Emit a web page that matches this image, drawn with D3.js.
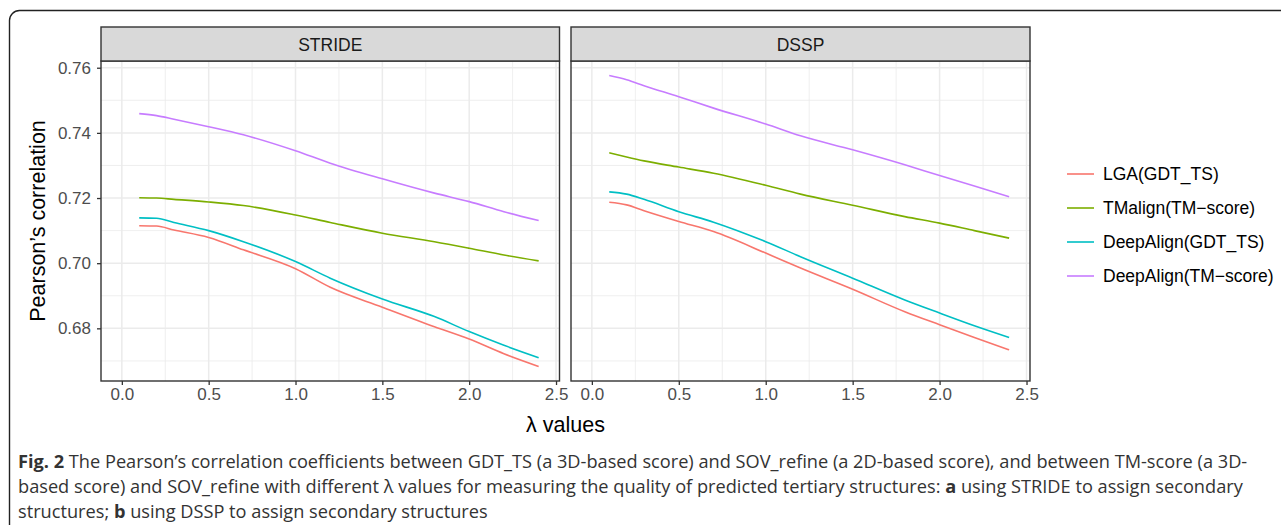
<!DOCTYPE html>
<html>
<head>
<meta charset="utf-8">
<script src="https://cdn.jsdelivr.net/npm/d3@7"></script>
<style>
  body { margin: 0; background: #fff; }
  svg { display: block; font-family: "Liberation Sans", Arial, sans-serif; }
  .caption { font-family: "Open Sans", "Noto Sans", sans-serif; fill: #333; }
</style>
</head>
<body>
<svg id="chart" width="1281" height="525"></svg>
<script>
// lambda values where the curves were read
const lambdas = [0.1, 0.2, 0.3, 0.5, 0.7, 1.0, 1.2, 1.5, 1.8, 2.0, 2.2, 2.4];
const panels = ['STRIDE', 'DSSP'];
const methods = ['LGA(GDT_TS)', 'TMalign(TM\u2212score)', 'DeepAlign(GDT_TS)', 'DeepAlign(TM\u2212score)'];
const colors = ['#F8766D', '#7CAE00', '#00BFC4', '#C77CFF'];

const strideLGA = [0.7115, 0.7114, 0.7102, 0.7079, 0.7041, 0.6983, 0.6926, 0.6865, 0.6805, 0.6767, 0.6722, 0.6683];
const strideTM = [0.7201, 0.7200, 0.7196, 0.7188, 0.7177, 0.7148, 0.7125, 0.7092, 0.7066, 0.7046, 0.7025, 0.7007];
const strideDAGdt = [0.7139, 0.7138, 0.7125, 0.7100, 0.7066, 0.7005, 0.6954, 0.6890, 0.6836, 0.6790, 0.6748, 0.6710];
const strideDATm = [0.7459, 0.7453, 0.7442, 0.7419, 0.7394, 0.7345, 0.7307, 0.7259, 0.7215, 0.7189, 0.7158, 0.7131];

const dsspLGA = [0.7187, 0.7179, 0.7161, 0.7128, 0.7097, 0.7031, 0.6985, 0.6920, 0.6851, 0.6811, 0.6772, 0.6734];
const dsspTM = [0.7339, 0.7326, 0.7314, 0.7295, 0.7276, 0.7239, 0.7212, 0.7178, 0.7143, 0.7123, 0.7100, 0.7077];
const dsspDAGdt = [0.7219, 0.7212, 0.7196, 0.7158, 0.7126, 0.7066, 0.7020, 0.6954, 0.6887, 0.6847, 0.6808, 0.6772];
const dsspDATm = [0.7576, 0.7563, 0.7545, 0.7511, 0.7476, 0.7427, 0.7391, 0.7348, 0.7302, 0.7269, 0.7237, 0.7204];

const xTicks = [0, 0.5, 1.0, 1.5, 2.0, 2.5];
const xMinor = [0.25, 0.75, 1.25, 1.75, 2.25];
const yTicks = [0.68, 0.70, 0.72, 0.74, 0.76];
const yMinor = [0.67, 0.69, 0.71, 0.73, 0.75];

const seriesByPanel = [
  [strideLGA, strideTM, strideDAGdt, strideDATm],
  [dsspLGA, dsspTM, dsspDAGdt, dsspDATm],
];

const svg = d3.select('#chart');

// outer frame of the figure box
svg.append('rect')
  .attr('x', 9.5).attr('y', 10.5)
  .attr('width', 1320).attr('height', 560)
  .attr('rx', 10)
  .attr('fill', 'none')
  .attr('stroke', '#222')
  .attr('stroke-width', 1.4);

const panelTop = 61;
const panelBottom = 381;
const stripTop = 27;
const panelX = [[101, 559.5], [571, 1030]];

// ggplot style 5% expansion
const allVals = seriesByPanel.flat(2);
const yExt = d3.extent(allVals);
const yPad = (yExt[1] - yExt[0]) * 0.05;
const y = d3.scaleLinear()
  .domain([yExt[0] - yPad, yExt[1] + yPad])
  .range([panelBottom, panelTop]);

const xExt = [0, d3.max(lambdas)];
const xPad = (xExt[1] - xExt[0]) * 0.05;

const line = (x) => d3.line()
  .x((d) => x(d[0]))
  .y((d) => y(d[1]))
  .curve(d3.curveMonotoneX);

const tickFont = 17;

panels.forEach((name, pi) => {
  const [x0, x1] = panelX[pi];
  const x = d3.scaleLinear()
    .domain([xExt[0] - xPad, xExt[1] + xPad])
    .range([x0, x1]);

  const g = svg.append('g');

  // grid
  g.selectAll('.vminor').data(xMinor).join('line')
    .attr('x1', x).attr('x2', x)
    .attr('y1', panelTop).attr('y2', panelBottom)
    .attr('stroke', '#EBEBEB').attr('stroke-width', 0.8);
  g.selectAll('.hminor').data(yMinor).join('line')
    .attr('y1', y).attr('y2', y)
    .attr('x1', x0).attr('x2', x1)
    .attr('stroke', '#EBEBEB').attr('stroke-width', 0.8);
  g.selectAll('.vmajor').data(xTicks).join('line')
    .attr('x1', x).attr('x2', x)
    .attr('y1', panelTop).attr('y2', panelBottom)
    .attr('stroke', '#EBEBEB').attr('stroke-width', 1.5);
  g.selectAll('.hmajor').data(yTicks).join('line')
    .attr('y1', y).attr('y2', y)
    .attr('x1', x0).attr('x2', x1)
    .attr('stroke', '#EBEBEB').attr('stroke-width', 1.5);

  // series
  seriesByPanel[pi].forEach((vals, si) => {
    g.append('path')
      .datum(lambdas.map((l, i) => [l, vals[i]]))
      .attr('d', line(x))
      .attr('fill', 'none')
      .attr('stroke', colors[si])
      .attr('stroke-width', 1.6);
  });

  // panel border
  g.append('rect')
    .attr('x', x0).attr('y', panelTop)
    .attr('width', x1 - x0).attr('height', panelBottom - panelTop)
    .attr('fill', 'none').attr('stroke', '#333').attr('stroke-width', 1.4);

  // strip
  g.append('rect')
    .attr('x', x0).attr('y', stripTop)
    .attr('width', x1 - x0).attr('height', panelTop - stripTop)
    .attr('fill', '#D9D9D9').attr('stroke', '#333').attr('stroke-width', 1.4);
  g.append('text')
    .attr('x', (x0 + x1) / 2).attr('y', 50.5)
    .attr('text-anchor', 'middle')
    .attr('font-size', 17.5)
    .attr('fill', '#1A1A1A')
    .text(name);

  // x axis
  const xAxis = d3.axisBottom(x)
    .tickValues(xTicks)
    .tickSize(4)
    .tickPadding(3)
    .tickFormat(d3.format('.1f'));
  g.append('g')
    .attr('transform', `translate(0,${panelBottom})`)
    .call(xAxis)
    .call((a) => a.select('.domain').remove())
    .call((a) => a.selectAll('line').attr('stroke', '#333').attr('stroke-width', 1.3))
    .call((a) => a.selectAll('text')
      .attr('font-size', tickFont)
      .attr('fill', '#4D4D4D')
      .attr('font-family', '"Liberation Sans", Arial, sans-serif'));
});

// y axis (left panel only)
const yAxis = d3.axisLeft(y)
  .tickValues(yTicks)
  .tickSize(4)
  .tickPadding(6)
  .tickFormat(d3.format('.2f'));
svg.append('g')
  .attr('transform', `translate(${panelX[0][0]},0)`)
  .call(yAxis)
  .call((a) => a.select('.domain').remove())
  .call((a) => a.selectAll('line').attr('stroke', '#333').attr('stroke-width', 1.3))
  .call((a) => a.selectAll('text')
    .attr('font-size', tickFont)
    .attr('fill', '#4D4D4D')
    .attr('font-family', '"Liberation Sans", Arial, sans-serif'));

// axis titles
svg.append('text')
  .attr('transform', `translate(45,${(panelTop + panelBottom) / 2}) rotate(-90)`)
  .attr('text-anchor', 'middle')
  .attr('font-size', 21.5)
  .attr('fill', '#000')
  .text('Pearson\u2019s correlation');

svg.append('text')
  .attr('x', (panelX[0][0] + panelX[1][1]) / 2)
  .attr('y', 432)
  .attr('text-anchor', 'middle')
  .attr('font-size', 21.5)
  .attr('fill', '#000')
  .text('\u03bb values');

// legend
const legend = svg.append('g').attr('transform', 'translate(1067,174)');
methods.forEach((m, i) => {
  const row = legend.append('g').attr('transform', `translate(0,${i * 34})`);
  row.append('line')
    .attr('x1', 0).attr('x2', 27)
    .attr('stroke', colors[i]).attr('stroke-width', 1.6);
  row.append('text')
    .attr('x', 36).attr('y', 6)
    .attr('font-size', 17.5)
    .attr('fill', '#000')
    .text(m);
});

// caption
const caption = svg.append('g').attr('class', 'caption').attr('font-size', 18.2);
const cap1 = caption.append('text').attr('x', 18).attr('y', 468);
cap1.append('tspan').attr('font-weight', 'bold').text('Fig. 2');
cap1.append('tspan').text(' The Pearson\u2019s correlation coefficients between GDT_TS (a 3D-based score) and SOV_refine (a 2D-based score), and between TM-score (a 3D-');
const cap2 = caption.append('text').attr('x', 18).attr('y', 493);
cap2.append('tspan').text('based score) and SOV_refine with different \u03bb values for measuring the quality of predicted tertiary structures: ');
cap2.append('tspan').attr('font-weight', 'bold').text('a');
cap2.append('tspan').text(' using STRIDE to assign secondary');
const cap3 = caption.append('text').attr('x', 18).attr('y', 518);
cap3.append('tspan').text('structures; ');
cap3.append('tspan').attr('font-weight', 'bold').text('b');
cap3.append('tspan').text(' using DSSP to assign secondary structures');
</script>
</body>
</html>
